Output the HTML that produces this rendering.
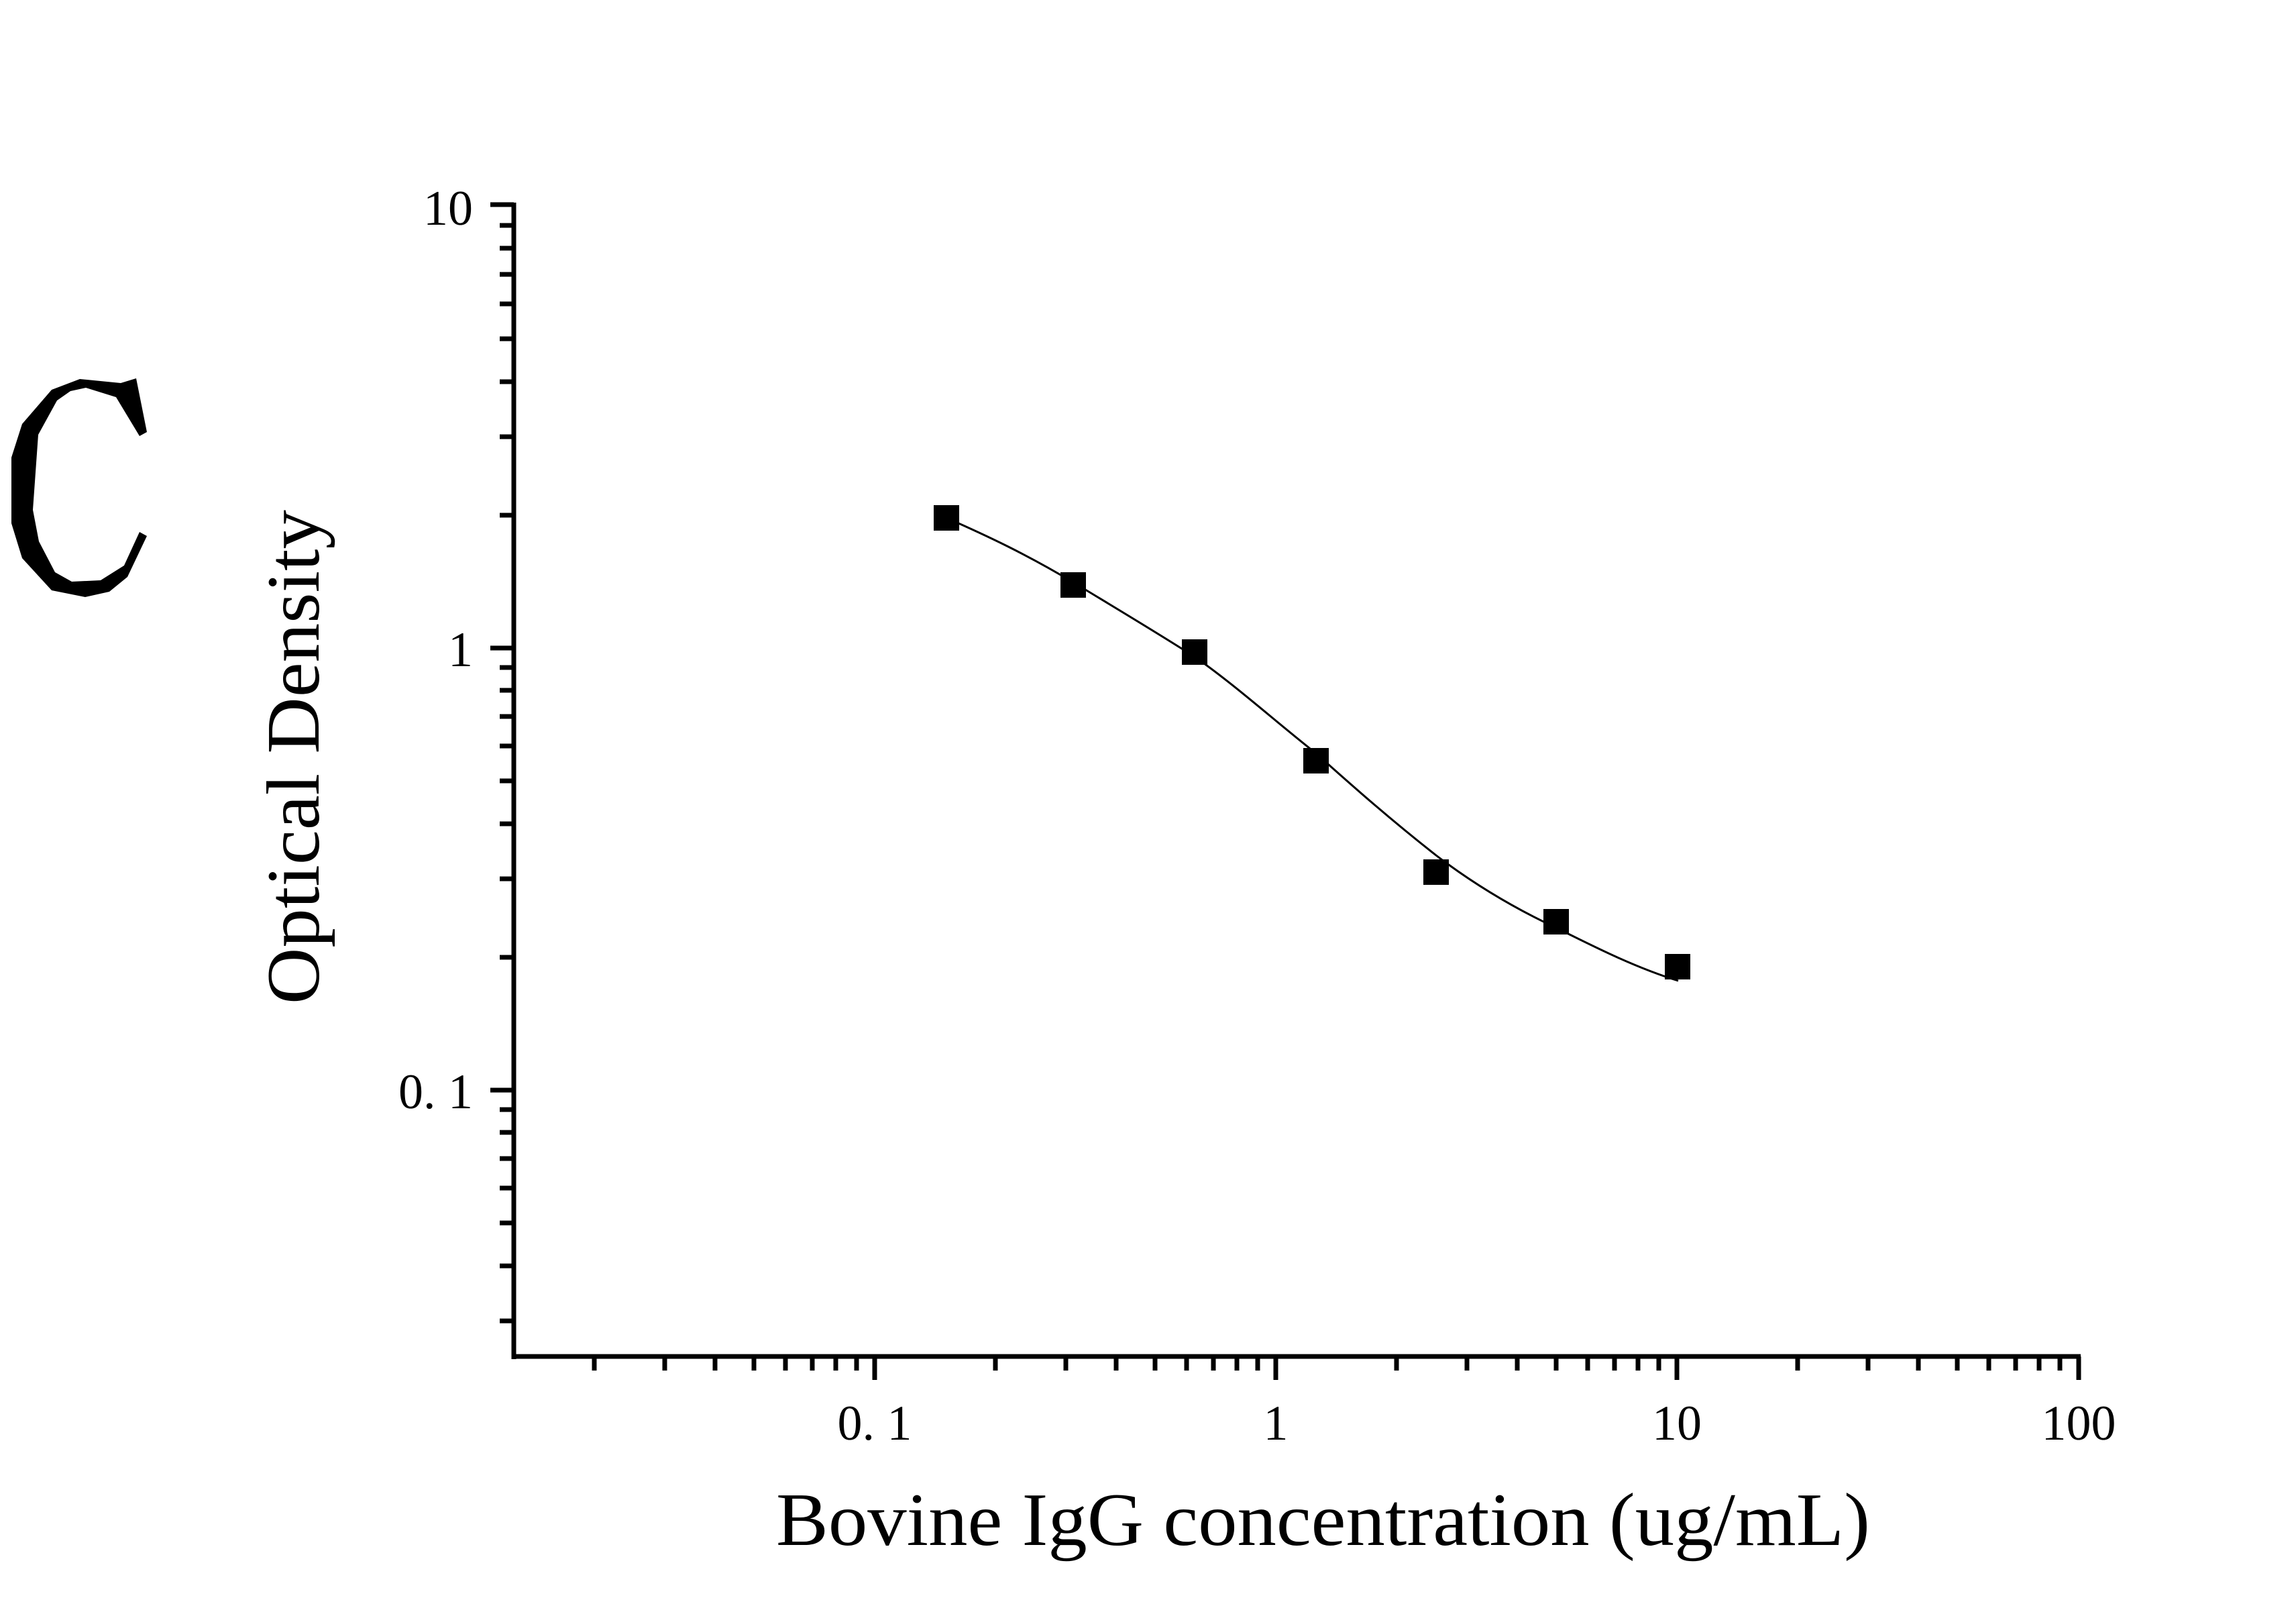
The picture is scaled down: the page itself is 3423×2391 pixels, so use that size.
<!DOCTYPE html>
<html><head><meta charset="utf-8"><style>html,body{margin:0;padding:0;background:#fff}svg{display:block}</style></head>
<body>
<svg xmlns="http://www.w3.org/2000/svg" width="3423" height="2391" viewBox="0 0 3423 2391">
<rect width="3423" height="2391" fill="#fff"/>
<polygon fill="#000" points="119,565 180,571 203,564 219,644 208,650 173,592 128,578 105,583 85,597 57,648 49,760 58,807 82,853 107,867 150,865 185,843 208,793 219,799 190,860 163,882 127,890 77,880 33,832 17,780 17,682 33,632 77,581"/>
<g stroke="#000" fill="none">
<line x1="766" y1="302" x2="766" y2="2026" stroke-width="7"/>
<line x1="763" y1="2022" x2="3102" y2="2022" stroke-width="7"/>
</g>
<g stroke="#000" stroke-width="7">
<line x1="886" y1="2022" x2="886" y2="2043"/><line x1="991" y1="2022" x2="991" y2="2043"/><line x1="1066" y1="2022" x2="1066" y2="2043"/><line x1="1124" y1="2022" x2="1124" y2="2043"/><line x1="1171" y1="2022" x2="1171" y2="2043"/><line x1="1211" y1="2022" x2="1211" y2="2043"/><line x1="1246" y1="2022" x2="1246" y2="2043"/><line x1="1277" y1="2022" x2="1277" y2="2043"/>
<line x1="1304" y1="2022" x2="1304" y2="2057"/>
<line x1="1484" y1="2022" x2="1484" y2="2043"/><line x1="1589" y1="2022" x2="1589" y2="2043"/><line x1="1664" y1="2022" x2="1664" y2="2043"/><line x1="1722" y1="2022" x2="1722" y2="2043"/><line x1="1769" y1="2022" x2="1769" y2="2043"/><line x1="1809" y1="2022" x2="1809" y2="2043"/><line x1="1844" y1="2022" x2="1844" y2="2043"/><line x1="1875" y1="2022" x2="1875" y2="2043"/>
<line x1="1902" y1="2022" x2="1902" y2="2057"/>
<line x1="2082" y1="2022" x2="2082" y2="2043"/><line x1="2187" y1="2022" x2="2187" y2="2043"/><line x1="2262" y1="2022" x2="2262" y2="2043"/><line x1="2320" y1="2022" x2="2320" y2="2043"/><line x1="2367" y1="2022" x2="2367" y2="2043"/><line x1="2407" y1="2022" x2="2407" y2="2043"/><line x1="2442" y1="2022" x2="2442" y2="2043"/><line x1="2473" y1="2022" x2="2473" y2="2043"/>
<line x1="2500" y1="2022" x2="2500" y2="2057"/>
<line x1="2680" y1="2022" x2="2680" y2="2043"/><line x1="2785" y1="2022" x2="2785" y2="2043"/><line x1="2860" y1="2022" x2="2860" y2="2043"/><line x1="2918" y1="2022" x2="2918" y2="2043"/><line x1="2965" y1="2022" x2="2965" y2="2043"/><line x1="3005" y1="2022" x2="3005" y2="2043"/><line x1="3040" y1="2022" x2="3040" y2="2043"/><line x1="3071" y1="2022" x2="3071" y2="2043"/>
<line x1="3099" y1="2022" x2="3099" y2="2057"/>
<line x1="731" y1="305" x2="766" y2="305"/>
<line x1="745" y1="336" x2="766" y2="336"/><line x1="745" y1="370" x2="766" y2="370"/><line x1="745" y1="409" x2="766" y2="409"/><line x1="745" y1="453" x2="766" y2="453"/><line x1="745" y1="505" x2="766" y2="505"/><line x1="745" y1="569" x2="766" y2="569"/><line x1="745" y1="651" x2="766" y2="651"/><line x1="745" y1="768" x2="766" y2="768"/>
<line x1="731" y1="966" x2="766" y2="966"/>
<line x1="745" y1="995" x2="766" y2="995"/><line x1="745" y1="1029" x2="766" y2="1029"/><line x1="745" y1="1068" x2="766" y2="1068"/><line x1="745" y1="1112" x2="766" y2="1112"/><line x1="745" y1="1164" x2="766" y2="1164"/><line x1="745" y1="1228" x2="766" y2="1228"/><line x1="745" y1="1310" x2="766" y2="1310"/><line x1="745" y1="1427" x2="766" y2="1427"/>
<line x1="731" y1="1625" x2="766" y2="1625"/>
<line x1="745" y1="1654" x2="766" y2="1654"/><line x1="745" y1="1688" x2="766" y2="1688"/><line x1="745" y1="1727" x2="766" y2="1727"/><line x1="745" y1="1771" x2="766" y2="1771"/><line x1="745" y1="1823" x2="766" y2="1823"/><line x1="745" y1="1887" x2="766" y2="1887"/><line x1="745" y1="1969" x2="766" y2="1969"/>
</g>
<g font-family="'Liberation Serif',serif" fill="#000">
<text x="705" y="335" font-size="74" text-anchor="end">10</text>
<text x="705" y="993" font-size="74" text-anchor="end">1</text>
<text x="705" y="1652" font-size="74" text-anchor="end">0. 1</text>
<text x="1304" y="2146" font-size="74" text-anchor="middle">0. 1</text>
<text x="1902" y="2146" font-size="74" text-anchor="middle">1</text>
<text x="2500" y="2146" font-size="74" text-anchor="middle">10</text>
<text x="3099" y="2146" font-size="74" text-anchor="middle">100</text>
<text x="1157" y="2303" font-size="112" textLength="1631" lengthAdjust="spacingAndGlyphs">Bovine IgG concentration (ug/mL)</text>
<text transform="translate(475,1497) rotate(-90)" font-size="112" textLength="737" lengthAdjust="spacingAndGlyphs">Optical Density</text>
</g>
<path d="M1411,772 C1470,798 1530,826 1600,868 C1661,905 1720,940 1781,979 C1840,1020 1901,1075 1962,1123 C2020,1175 2076,1224 2141,1275 C2200,1320 2260,1355 2320,1383 C2380,1413 2440,1443 2502,1462" fill="none" stroke="#000" stroke-width="3"/>
<g fill="#000">
<rect x="1392" y="753" width="38" height="38"/>
<rect x="1581" y="853" width="38" height="38"/>
<rect x="1762" y="953" width="38" height="38"/>
<rect x="1943" y="1115" width="38" height="38"/>
<rect x="2122" y="1281" width="38" height="38"/>
<rect x="2301" y="1355" width="38" height="38"/>
<rect x="2482" y="1422" width="38" height="38"/>
</g>
</svg>
</body></html>
